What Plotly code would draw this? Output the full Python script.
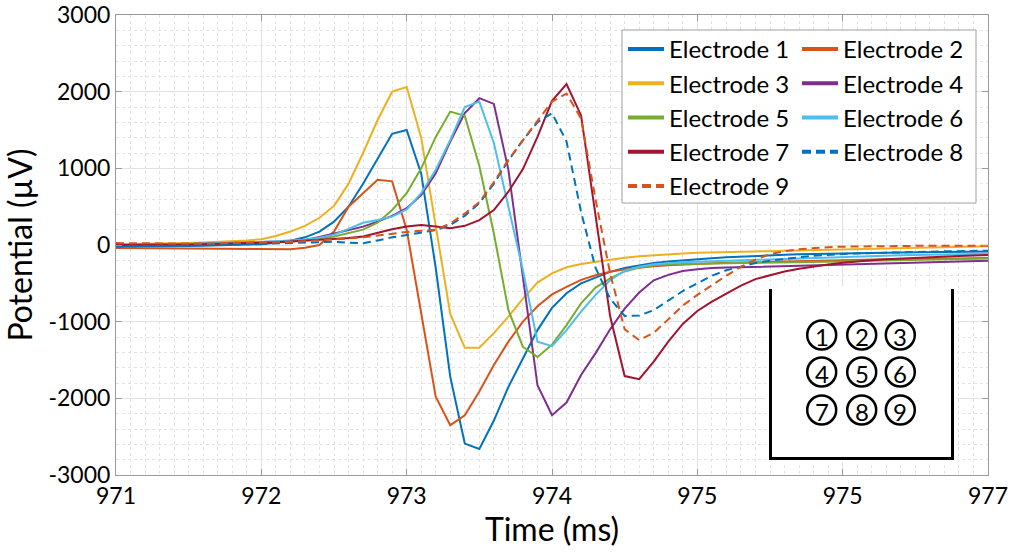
import plotly.graph_objects as go

# ---------------- data ----------------
time_ms = [round(971 + 0.1 * i, 1) for i in range(61)]

electrode_1 = [-20, -20, -18, -16, -14, -12, -10, -6, -2, 4,
               10, 30, 56, 100, 175, 305, 500, 800, 1130, 1450,
               1500, 930, -300, -1720, -2590, -2660, -2290, -1850, -1480, -1110,
               -820, -630, -500, -420, -350, -300, -265, -235, -215, -198,
               -185, -172, -160, -150, -142, -135, -128, -122, -117, -112,
               -108, -105, -102, -100, -98, -96, -93, -91, -89, -87, -85]
electrode_2 = [-40, -42, -44, -45, -46, -47, -48, -50, -52, -54,
               -55, -57, -56, -35, 0, 175, 500, 675, 850, 830,
               200, -890, -1980, -2350, -2220, -1910, -1565, -1260, -1000, -800,
               -645, -545, -455, -395, -350, -318, -295, -278, -265, -255,
               -245, -238, -232, -227, -222, -217, -212, -207, -203, -199,
               -196, -193, -190, -187, -185, -182, -180, -178, -176, -173, -170]
electrode_3 = [10, 12, 15, 18, 22, 27, 33, 40, 50, 60,
               74, 117, 175, 250, 355, 510, 800, 1200, 1630, 2000,
               2060, 1400, 250, -900, -1340, -1340, -1150, -935, -700, -490,
               -370, -290, -248, -217, -190, -165, -147, -132, -120, -110,
               -102, -96, -91, -87, -83, -80, -76, -72, -68, -64,
               -60, -56, -52, -48, -44, -40, -36, -32, -27, -22, -16]
electrode_4 = [0, 0, 2, 5, 8, 12, 16, 20, 26, 33,
               40, 45, 55, 65, 105, 152, 195, 240, 305, 380,
               480, 650, 935, 1350, 1720, 1915, 1840, 980, -420, -1830,
               -2220, -2055, -1695, -1410, -1100, -830, -620, -460, -390, -340,
               -315, -300, -295, -290, -288, -285, -280, -275, -270, -265,
               -260, -255, -250, -245, -240, -235, -229, -222, -216, -210, -205]
electrode_5 = [0, 0, 2, 4, 6, 8, 11, 15, 20, 25,
               30, 35, 45, 60, 80, 110, 150, 200, 290, 455,
               675, 1000, 1410, 1740, 1685, 1030, 150, -850, -1330, -1460,
               -1300, -1045, -760, -555, -435, -345, -295, -265, -250, -245,
               -242, -240, -238, -236, -234, -231, -228, -225, -222, -218,
               -214, -210, -206, -202, -198, -195, -191, -187, -183, -179, -175]
electrode_6 = [0, 0, 2, 5, 8, 12, 16, 22, 28, 35,
               40, 48, 58, 70, 95, 135, 210, 290, 325, 370,
               465, 675, 980, 1370, 1800, 1870, 1330, 500, -330, -1260,
               -1320, -1110, -870, -650, -460, -335, -285, -250, -235, -225,
               -218, -212, -205, -198, -190, -182, -175, -168, -162, -156,
               -150, -146, -142, -138, -134, -130, -127, -124, -121, -118, -115]
electrode_7 = [0, 0, 2, 4, 6, 8, 10, 14, 19, 24,
               30, 35, 45, 55, 65, 75, 90, 110, 160, 205,
               240, 260, 240, 220, 250, 325, 455, 695, 990, 1410,
               1880, 2100, 1690, 400, -930, -1710, -1750, -1520, -1260, -1030,
               -860, -740, -630, -530, -445, -390, -345, -310, -280, -255,
               -232, -212, -198, -186, -176, -167, -159, -151, -144, -137, -130]
electrode_8 = [-20, -18, -15, -12, -10, -8, -5, 0, 5, 10,
               15, 20, 25, 32, 38, 42, 30, 22, 60, 100,
               130, 160, 195, 260, 380, 545, 800, 1100, 1370, 1600,
               1720, 1350, 430, -300, -700, -925, -920, -850, -720, -600,
               -500, -400, -330, -280, -235, -205, -180, -160, -142, -128,
               -118, -110, -104, -98, -94, -90, -86, -83, -80, -77, -74]
electrode_9 = [25, 22, 20, 20, 18, 18, 20, 22, 25, 28,
               30, 35, 40, 50, 60, 70, 85, 100, 125, 150,
               170, 185, 200, 280, 410, 560, 820, 1110, 1370, 1620,
               1870, 1975, 1650, 590, -370, -1100, -1240, -1145, -970, -790,
               -650, -520, -400, -285, -190, -120, -80, -55, -38, -28,
               -22, -18, -15, -13, -12, -11, -10, -10, -10, -10, -10]

series_names = ["Electrode 1", "Electrode 2", "Electrode 3", "Electrode 4", "Electrode 5",
                "Electrode 6", "Electrode 7", "Electrode 8", "Electrode 9"]
series_values = [electrode_1, electrode_2, electrode_3, electrode_4, electrode_5,
                 electrode_6, electrode_7, electrode_8, electrode_9]

x_tick_values = [971, 972, 973, 974, 975, 976, 977]
x_tick_labels = ["971", "972", "973", "974", "975", "975", "977"]
y_tick_values = [-3000, -2000, -1000, 0, 1000, 2000, 3000]
y_tick_labels = ["-3000", "-2000", "-1000", "0", "1000", "2000", "3000"]
inset_labels = ["1", "2", "3", "4", "5", "6", "7", "8", "9"]

# ---------------- styles ----------------
colors = ["#0072BD", "#D95319", "#EDB120", "#7E2F8E", "#77AC30",
          "#4DBEEE", "#A2142F", "#0072BD", "#D95319"]
dashes = ["solid"] * 7 + ["8px,5px", "8px,5px"]
legend_dashes = ["solid"] * 7 + ["9px,5px", "9px,5px"]
FONT = "Lato"

W, H = 1012, 556
PL, PT, PR, PB = 116, 15, 988, 475          # plot area in pixels
L, T, R, B = PL, PT, W - PR, H - PB
PW, PH = PR - PL, PB - PT


def px_x(px):
    return (px - PL) / PW


def px_y(py):
    return 1 - (py - PT) / PH


fig = go.Figure()
for i, (name, vals) in enumerate(zip(series_names, series_values)):
    fig.add_trace(go.Scatter(
        x=time_ms, y=vals, mode="lines", name=name,
        line=dict(color=colors[i], width=2, dash=dashes[i]),
        showlegend=False, legendgroup=name, hoverinfo="skip",
    ))
# legend entries (thicker sample lines, as in the reference)
for i, name in enumerate(series_names):
    fig.add_trace(go.Scatter(
        x=[None], y=[None], mode="lines", name=name,
        line=dict(color=colors[i], width=4, dash=legend_dashes[i]),
        legend="legend" if i % 2 == 0 else "legend2",
        legendgroup=name, showlegend=True, hoverinfo="skip",
    ))

shapes = []
# legend frame (white box under the two legend columns)
shapes.append(dict(type="rect", xref="paper", yref="paper",
                   x0=px_x(622), x1=px_x(976), y0=px_y(203), y1=px_y(30),
                   fillcolor="white", line=dict(color="#A0A0A0", width=1), layer="above"))
# inset: electrode layout diagram
shapes.append(dict(type="rect", xref="paper", yref="paper",
                   x0=px_x(766), x1=px_x(957), y0=px_y(462), y1=px_y(286),
                   fillcolor="white", line=dict(width=0), layer="above"))
for (xa, ya, xb, yb) in [(770.5, 289, 770.5, 459), (769, 458.5, 954, 458.5), (952.5, 289, 952.5, 459)]:
    shapes.append(dict(type="line", xref="paper", yref="paper",
                       x0=px_x(xa), y0=px_y(ya), x1=px_x(xb), y1=px_y(yb),
                       line=dict(color="black", width=3), layer="above"))

annotations = []
col_px = [821.7, 861.7, 900.3]
row_px = [335, 372, 410]
rad = 14.5
for k, lab in enumerate(inset_labels):
    cx, cy = col_px[k % 3], row_px[k // 3]
    shapes.append(dict(type="circle", xref="paper", yref="paper",
                       x0=px_x(cx - rad), x1=px_x(cx + rad),
                       y0=px_y(cy + rad), y1=px_y(cy - rad),
                       line=dict(color="black", width=2.5), fillcolor="rgba(0,0,0,0)", layer="above"))
    annotations.append(dict(xref="paper", yref="paper", x=px_x(cx), y=px_y(cy + 1),
                            text=lab, showarrow=False, xanchor="center", yanchor="middle",
                            font=dict(family=FONT, size=24, color="black")))

axis_common = dict(
    automargin=True, ticklabeloverflow="allow",
    ticks="inside", ticklen=6, tickcolor="#9A9A9A", tickwidth=1,
    showline=True, linecolor="#9A9A9A", linewidth=1, mirror="ticks",
    showgrid=True, gridcolor="#E2E2E2", gridwidth=1, zeroline=False,
    tickfont=dict(family=FONT, size=23, color="black"),
)

legend_common = dict(xanchor="left", yanchor="top", bgcolor="rgba(0,0,0,0)",
                     borderwidth=0, tracegroupgap=0, itemwidth=36,
                     font=dict(family=FONT, size=24, color="black"))

fig.update_layout(
    template="none",
    width=W, height=H,
    margin=dict(l=L, r=R, t=T, b=B, autoexpand=False),
    paper_bgcolor="white", plot_bgcolor="white",
    showlegend=True,
    xaxis=dict(
        range=[971, 977], tickmode="linear", tick0=971, dtick=1,
        labelalias={str(v): t for v, t in zip(x_tick_values, x_tick_labels)},
        minor=dict(dtick=0.1, tick0=971, showgrid=True, gridcolor="#E3E3E3", griddash="dot", gridwidth=1, ticks=""),
        title=dict(text="Time (ms)", font=dict(family=FONT, size=32, color="black"), standoff=8),
        **axis_common,
    ),
    yaxis=dict(
        range=[-3000, 3000], tickmode="linear", tick0=-3000, dtick=1000,
        labelalias={("\u2212" + t[1:] if t.startswith("-") else t): t for t in y_tick_labels},
        minor=dict(dtick=200, tick0=-3000, showgrid=True, gridcolor="#E3E3E3", griddash="dot", gridwidth=1, ticks=""),
        title=dict(text="Potential (µV)", font=dict(family=FONT, size=32, color="black"), standoff=6),
        **axis_common,
    ),
    legend=dict(x=px_x(623), y=px_y(27), **legend_common),
    legend2=dict(x=px_x(797), y=px_y(27), **legend_common),
    shapes=shapes,
    annotations=annotations,
)

# remove the browser's default 8 px body margin so the figure fills the window
fig.write_html("out.html",
               config={"displayModeBar": False, "staticPlot": True},
               post_script="document.body.style.margin='0';document.body.style.overflow='hidden';")
